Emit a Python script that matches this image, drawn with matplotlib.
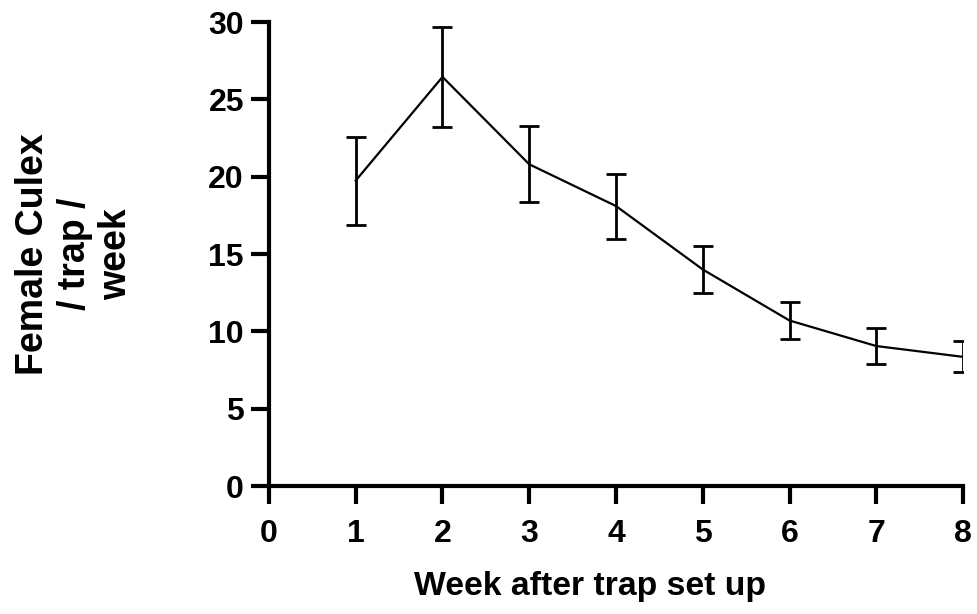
import matplotlib
matplotlib.use("Agg")
import matplotlib.pyplot as plt

weeks = [1, 2, 3, 4, 5, 6, 7, 8]
mean_counts = [19.75, 26.45, 20.8, 18.1, 14.0, 10.7, 9.05, 8.35]
err_low = [2.85, 3.25, 2.45, 2.1, 1.5, 1.2, 1.15, 1.0]
err_high = [2.8, 3.25, 2.45, 2.1, 1.5, 1.2, 1.15, 1.0]
x_ticks = [0, 1, 2, 3, 4, 5, 6, 7, 8]
y_ticks = [0, 5, 10, 15, 20, 25, 30]

plt.rcParams['font.family'] = ['Liberation Sans', 'DejaVu Sans']
plt.rcParams['font.weight'] = 'bold'

fig = plt.figure(figsize=(9.78, 6.14), dpi=100)
ax = fig.add_axes([269/978, 1-486/614, (963-269)/978, (486-22)/614])

ax.errorbar(weeks, mean_counts, yerr=[err_low, err_high], color='black',
            linewidth=1.6, elinewidth=2.0, capsize=7, capthick=2.0)

ax.set_xlim(0, 8)
ax.set_ylim(0, 30)
ax.set_xticks(x_ticks)
ax.set_yticks(y_ticks)
ax.spines['top'].set_visible(False)
ax.spines['right'].set_visible(False)
for s in ['left', 'bottom']:
    ax.spines[s].set_linewidth(3)
    ax.spines[s].set_capstyle('projecting')
ax.tick_params(axis='both', width=3, length=13, labelsize=23)
ax.tick_params(axis='x', pad=11)
ax.tick_params(axis='y', pad=5)
for lab in ax.get_xticklabels() + ax.get_yticklabels():
    lab.set_fontweight('bold')
for lab in ax.get_xticklabels():
    lab.set_clip_on(False)

fig.text(590/978, 1-587/614, 'Week after trap set up', ha='center', va='center',
         fontsize=24.3, fontweight='bold')
fig.text(75/978, 1-254/614, 'Female Culex\n/ trap /\nweek', ha='center', va='center',
         rotation=90, fontsize=27, fontweight='bold', linespacing=1.2,
         multialignment='center')

fig.savefig('out.png', dpi=100)
